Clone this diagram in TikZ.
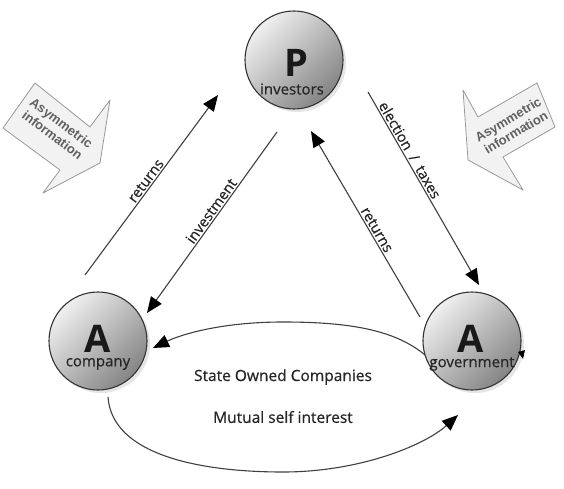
\documentclass[tikz,border=0pt]{standalone}
\usepackage{fontspec}
\setmainfont{Open Sans}
\newfontfamily\medfont{Open Sans}[FakeBold=0.6]
\newfontfamily\arialfont{Liberation Sans}
\usetikzlibrary{arrows.meta,shadows}
\tikzset{
  agent/.style={circle, minimum size=98pt, inner sep=0pt, draw=black!80, line width=1.1pt,
    top color=black!6, bottom color=black!48, shading angle=45,
    drop shadow={shadow xshift=3pt, shadow yshift=-3pt, opacity=0.2}},
  bigletter/.style={font=\bfseries\fontsize{38}{38}\selectfont, text=black!90, inner sep=0pt},
  who/.style={font=\medfont\fontsize{15}{15}\selectfont, text=black!85, inner sep=0pt},
  conn/.style={draw=black!75, line width=1.1pt, -{Triangle[length=16pt,width=13pt,color=black]}},
  lbl/.style={font=\medfont\fontsize{14.5}{14.5}\selectfont, text=black!85, sloped, above, inner sep=1.5pt},
  midtext/.style={font=\medfont\fontsize{15.5}{15.5}\selectfont, text=black!85, inner sep=0pt},
  block/.style={fill=black!5, draw=black!40, line width=0.8pt, line join=round},
  blocktext/.style={font=\arialfont\bfseries\fontsize{13}{15}\selectfont, text=black!62, align=center, inner sep=0pt},
}
\begin{document}
\begin{tikzpicture}[x=1pt,y=-1pt]
\useasboundingbox (0,0) rectangle (564,489);
\fill[white] (0,0) rectangle (564,489);

% block arrows
\draw[block] (35,83) -- (90,127) -- (110,100) -- (100,163) -- (43,193) -- (60,170) -- (3,128) -- cycle;
\node[blocktext, rotate=-37] (lefttext) at (57,129) {Asymmetric\\information};
\draw[block] (463,90) -- (478,117) -- (537,83) -- (555,127) -- (503,157) -- (523,190) -- (468,160) -- cycle;
\node[blocktext, rotate=31] (righttext) at (512,126) {Asymmetric\\information};

% agents
\node[agent] (P) at (294,60) {};
\node[bigletter] (Pl) at (296,63) {P};
\node[who] (Pt) at (292,89) {investors};

\node[agent] (C) at (98,341) {};
\node[bigletter] (Cl) at (98,339) {A};
\node[who] (Ct) at (98,364) {company};

\node[agent] (G) at (472,341) {};
\node[bigletter] (Gl) at (471,339) {A};
\node[who] (Gt) at (472,364) {government};
\fill[black] (518,352) -- (525,350) -- (523,359) -- cycle;

% connector end points
\coordinate (r1a) at (85,275);
\coordinate (r1b) at (218,95);
\coordinate (inva) at (277,132);
\coordinate (invb) at (147,313);
\coordinate (r2a) at (420,317);
\coordinate (r2b) at (311,131);
\coordinate (ela) at (368,92);
\coordinate (elb) at (479,285);
\coordinate (upa) at (425,355);
\coordinate (upb) at (153,348);
\coordinate (loa) at (108,397);
\coordinate (lob) at (458,415);

\draw[conn] (r1a) -- node[lbl] {returns} (r1b);
\draw[conn] (inva) -- node[lbl, pos=0.46] {investment} (invb);
\draw[conn] (r2a) -- node[lbl, pos=0.45] {returns} (r2b);
\draw[conn] (ela) -- node[lbl, pos=0.32] {election \ / \ taxes} (elb);

\draw[conn] (upa) .. controls (395,330) and (350,322) .. (283,322)
  .. controls (220,322) and (180,335) .. (upb);
\draw[conn] (loa) .. controls (112,455) and (200,472) .. (283,472)
  .. controls (360,472) and (425,445) .. (lob);

\node[midtext] (soc) at (283,377) {State Owned Companies};
\node[midtext] (msi) at (283,417) {Mutual self interest};
\end{tikzpicture}
\end{document}
